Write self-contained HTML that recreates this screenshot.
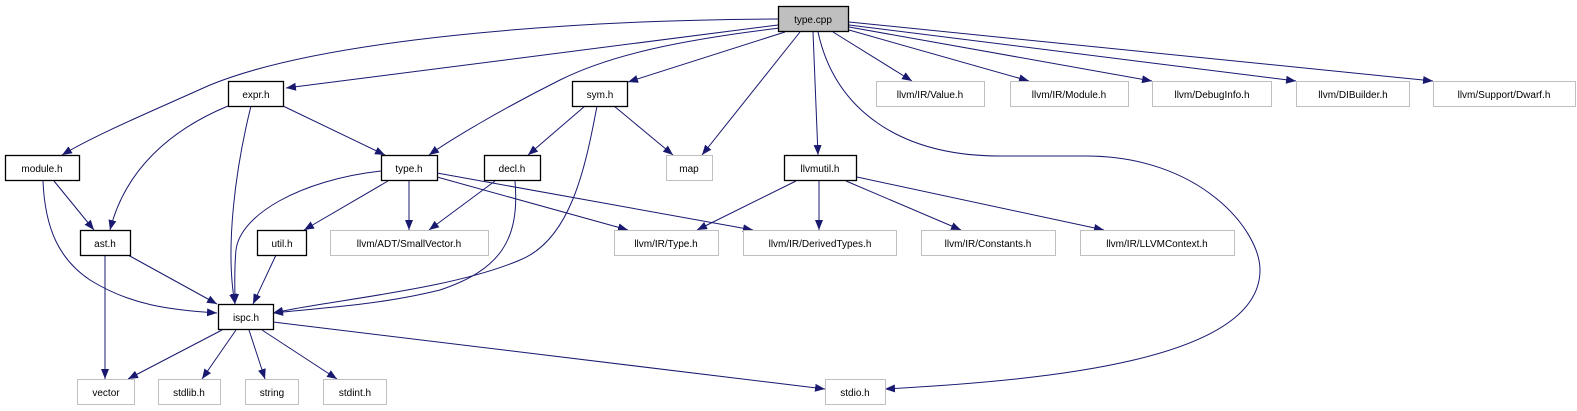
<!DOCTYPE html>
<html><head><meta charset="utf-8"><style>
html,body{margin:0;padding:0;background:#fff;}
svg{display:block;}
text{font-family:"Liberation Sans",sans-serif;font-size:10px;fill:#000;text-anchor:middle;}
.e{fill:none;stroke:#191970;stroke-width:1;}
.b{fill:#fff;stroke:#000;stroke-width:1.3;}
.g{fill:#fff;stroke:#bfbfbf;stroke-width:1;}
</style></head><body>
<svg width="1577" height="411" viewBox="0 0 1577 411" xmlns="http://www.w3.org/2000/svg">
<defs><marker id="a" markerUnits="userSpaceOnUse" markerWidth="10" markerHeight="8" refX="10" refY="4" orient="auto"><path d="M0,0 L10,4 L0,8 z" fill="#191970"/></marker></defs>
<g marker-end="url(#a)">
<path class="e" d="M778,19 C560,20 320,40 210,85 C150,112 95,135 62,155"/>
<path class="e" d="M778,25 L286,88"/>
<path class="e" d="M780,28 C680,40 610,55 560,80 C500,110 450,140 429,155"/>
<path class="e" d="M785,32 L628,82"/>
<path class="e" d="M800,32 L702,155"/>
<path class="e" d="M813,32 L818,155"/>
<path class="e" d="M818,32 C835,110 900,156 1000,156 L1086,156 C1200,156 1260,230 1260,270 C1260,360 1050,380 885,389"/>
<path class="e" d="M833,32 L912,81"/>
<path class="e" d="M849,30 L1029,81"/>
<path class="e" d="M849,27 L1152,81"/>
<path class="e" d="M849,25 L1296,81"/>
<path class="e" d="M849,22 L1433,81"/>
<path class="e" d="M228,106 C170,130 125,170 110,230"/>
<path class="e" d="M251,106 C235,170 225,250 235,304"/>
<path class="e" d="M283,106 L385,155"/>
<path class="e" d="M585,106 L528,155"/>
<path class="e" d="M614,106 L673,155"/>
<path class="e" d="M597,106 C585,170 570,240 520,260 C450,290 330,300 273,313"/>
<path class="e" d="M54,181 L94,230"/>
<path class="e" d="M43,181 C45,230 60,260 90,280 C130,305 170,310 217,313"/>
<path class="e" d="M381,171 C300,180 240,215 236,250 C234,270 235,290 235,304"/>
<path class="e" d="M388,181 L304,230"/>
<path class="e" d="M409,181 L409,230"/>
<path class="e" d="M437,177 L628,230"/>
<path class="e" d="M437,173 L753,230"/>
<path class="e" d="M495,181 L429,230"/>
<path class="e" d="M515,181 C520,240 500,270 440,290 C380,305 320,308 273,313"/>
<path class="e" d="M796,181 L697,230"/>
<path class="e" d="M819,181 L819,230"/>
<path class="e" d="M846,181 L961,230"/>
<path class="e" d="M857,177 L1104,230"/>
<path class="e" d="M105,255 L105,379"/>
<path class="e" d="M128,255 L217,304"/>
<path class="e" d="M276,255 L253,304"/>
<path class="e" d="M222,330 L128,379"/>
<path class="e" d="M236,330 L202,379"/>
<path class="e" d="M249,330 L265,379"/>
<path class="e" d="M262,330 L337,379"/>
<path class="e" d="M273,322 L825,389"/>
</g>
<rect x="778.5" y="6.5" width="70" height="25" fill="#bfbfbf" stroke="#000" stroke-width="1.3"/><text x="813" y="23">type.cpp</text>
<rect class="b" x="228.5" y="81.5" width="55" height="25"/><text x="256" y="98">expr.h</text>
<rect class="b" x="572.5" y="81.5" width="55" height="25"/><text x="600" y="98">sym.h</text>
<rect class="g" x="876.5" y="81.5" width="108" height="25"/><text x="930" y="98">llvm/IR/Value.h</text>
<rect class="g" x="1010.5" y="81.5" width="118" height="25"/><text x="1069" y="98">llvm/IR/Module.h</text>
<rect class="g" x="1152.5" y="81.5" width="119" height="25"/><text x="1212" y="98">llvm/DebugInfo.h</text>
<rect class="g" x="1296.5" y="81.5" width="113" height="25"/><text x="1353" y="98">llvm/DIBuilder.h</text>
<rect class="g" x="1433.5" y="81.5" width="142" height="25"/><text x="1504" y="98">llvm/Support/Dwarf.h</text>
<rect class="b" x="5.5" y="155.5" width="74" height="25"/><text x="42" y="172">module.h</text>
<rect class="b" x="381.5" y="155.5" width="56" height="25"/><text x="409" y="172">type.h</text>
<rect class="b" x="484.5" y="155.5" width="56" height="25"/><text x="512" y="172">decl.h</text>
<rect class="g" x="666.5" y="155.5" width="46" height="25"/><text x="689" y="172">map</text>
<rect class="b" x="784.5" y="155.5" width="72" height="25"/><text x="820" y="172">llvmutil.h</text>
<rect class="b" x="80.5" y="230.5" width="50" height="25"/><text x="105" y="247">ast.h</text>
<rect class="b" x="257.5" y="230.5" width="49" height="25"/><text x="282" y="247">util.h</text>
<rect class="g" x="330.5" y="230.5" width="158" height="25"/><text x="409" y="247">llvm/ADT/SmallVector.h</text>
<rect class="g" x="614.5" y="230.5" width="104" height="25"/><text x="666" y="247">llvm/IR/Type.h</text>
<rect class="g" x="743.5" y="230.5" width="153" height="25"/><text x="820" y="247">llvm/IR/DerivedTypes.h</text>
<rect class="g" x="921.5" y="230.5" width="134" height="25"/><text x="988" y="247">llvm/IR/Constants.h</text>
<rect class="g" x="1080.5" y="230.5" width="154" height="25"/><text x="1157" y="247">llvm/IR/LLVMContext.h</text>
<rect class="b" x="218.5" y="304.5" width="55" height="25"/><text x="246" y="321">ispc.h</text>
<rect class="g" x="77.5" y="379.5" width="57" height="25"/><text x="106" y="396">vector</text>
<rect class="g" x="158.5" y="379.5" width="62" height="25"/><text x="189" y="396">stdlib.h</text>
<rect class="g" x="245.5" y="379.5" width="53" height="25"/><text x="272" y="396">string</text>
<rect class="g" x="323.5" y="379.5" width="63" height="25"/><text x="355" y="396">stdint.h</text>
<rect class="g" x="825.5" y="379.5" width="60" height="25"/><text x="855" y="396">stdio.h</text>
</svg>
</body></html>
